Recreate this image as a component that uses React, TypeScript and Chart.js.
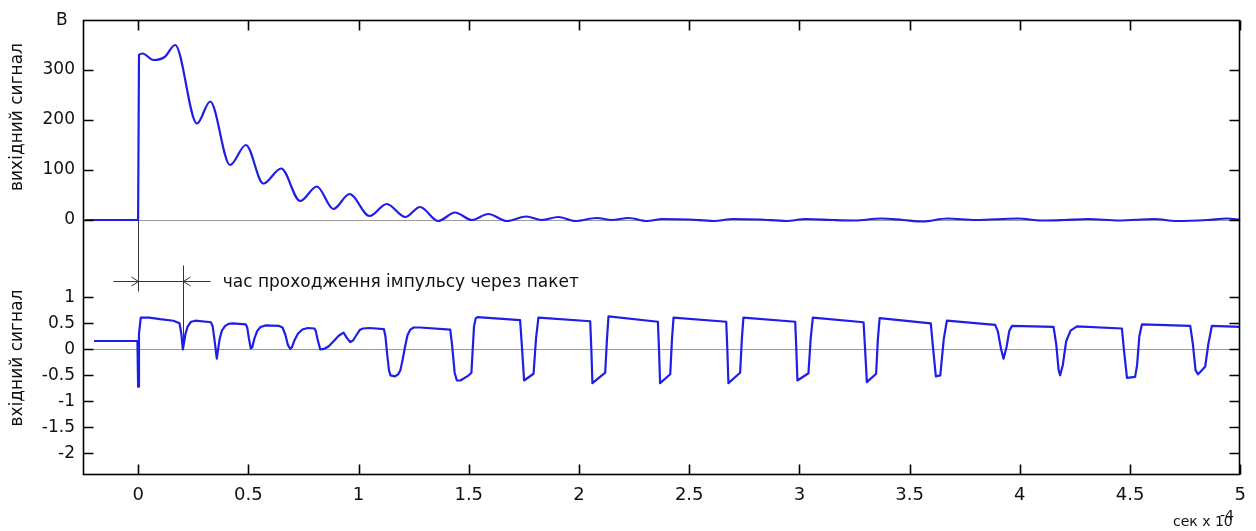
import React, { useEffect, useRef } from "react";
import { Chart, registerables } from "chart.js";

Chart.register(...registerables);

// ---------- data ----------
const X_TICKS = [0, 0.5, 1, 1.5, 2, 2.5, 3, 3.5, 4, 4.5, 5];
const OUT_TICKS = [0, 100, 200, 300];
const IN_TICKS = [-2, -1.5, -1, -0.5, 0, 0.5, 1];

const OUT_TITLE = "вихідний сигнал";
const IN_TITLE = "вхідний сигнал";
const UNIT_Y = "В";
const UNIT_X = "сек x 10";
const UNIT_X_EXP = "-4";
const ANN_TEXT = "час проходження імпульсу через пакет";

// annotation (time of pulse passing through the package)
const ANN_T0 = 0;
const ANN_T1 = 0.203;
const ANN_Y = 1.31;
const ANN_LINE_FROM = -0.112;
const ANN_LINE_TO = 0.327;
const ANN_T0_END = 1.13;
const ANN_T1_TOP = 1.62;
const ANN_TEXT_X = 0.384;

// output signal (top panel)
const OUT_X = [
  -0.24, 0, 0.004, 0.02, 0.07, 0.12, 0.168, 0.267, 0.327, 0.417, 0.489, 0.568, 0.649,
  0.735, 0.811, 0.886, 0.959, 1.05, 1.128, 1.212, 1.279, 1.361, 1.438, 1.514, 1.589,
  1.673, 1.761, 1.831, 1.906, 1.983, 2.081, 2.149, 2.225, 2.308, 2.38, 2.5, 2.61, 2.7,
  2.82, 2.94, 3.03, 3.15, 3.25, 3.37, 3.47, 3.56, 3.67, 3.8, 3.99, 4.1, 4.2, 4.31, 4.45,
  4.61, 4.71, 4.85, 4.94, 5.0,
];
const OUT_Y = [
  0, 0, 330, 333, 320, 326, 350, 193, 237, 110, 150, 73, 103,
  38, 67, 22, 52, 8, 32, 6, 26, -2, 15, 0, 12,
  -2, 7, 0, 6, -2, 4, 0, 4, -2, 2, 1, -2, 2,
  1, -2, 2, 0, -1, 3, 0, -3, 3, 0, 3, -1, 0, 2, -1,
  2, -2, 0, 3, 0,
];

// input signal (bottom panel)
const IN_X = [
  -0.2, -0.003, 0, 0.004, 0.012, 0.05, 0.1, 0.16, 0.188, 0.196, 0.203, 0.208, 0.215,
  0.225, 0.24, 0.26, 0.33, 0.338, 0.346, 0.357, 0.362, 0.37, 0.38, 0.395, 0.41, 0.43,
  0.488, 0.495, 0.503, 0.511, 0.518, 0.527, 0.54, 0.555, 0.58,
  0.64, 0.655, 0.668, 0.68, 0.69, 0.698, 0.71, 0.725, 0.745, 0.77, 0.8,
  0.806, 0.815, 0.826, 0.845, 0.865, 0.89, 0.91, 0.932, 0.947, 0.962, 0.975, 0.99,
  1.005, 1.02, 1.05, 1.115,
  1.122, 1.13, 1.138, 1.145, 1.165, 1.18, 1.19, 1.2, 1.211, 1.222, 1.235, 1.25, 1.28,
  1.416, 1.424, 1.436, 1.446, 1.462, 1.5, 1.512, 1.518, 1.524, 1.532, 1.54,
  1.733, 1.742, 1.751, 1.794, 1.805, 1.816,
  2.051, 2.056, 2.061, 2.119, 2.127, 2.134,
  2.358, 2.363, 2.368, 2.414, 2.422, 2.429,
  2.668, 2.673, 2.678, 2.731, 2.739, 2.746,
  2.981, 2.986, 2.991, 3.041, 3.051, 3.061,
  3.291, 3.298, 3.306, 3.348, 3.356, 3.364,
  3.596, 3.607, 3.619, 3.639, 3.655, 3.669,
  3.888, 3.9, 3.915, 3.926, 3.94, 3.952, 3.964,
  4.153, 4.165, 4.176, 4.183, 4.195, 4.21, 4.23, 4.259,
  4.463, 4.472, 4.486, 4.523, 4.532, 4.542, 4.554,
  4.773, 4.785, 4.797, 4.808, 4.822, 4.841, 4.855, 4.871, 5.0,
];
const IN_Y = [
  0.16, 0.16, -0.72, 0.3, 0.61, 0.61, 0.58, 0.55, 0.5, 0.3, 0.0, 0.12, 0.3,
  0.44, 0.53, 0.55, 0.52, 0.45, 0.2, -0.18, -0.02, 0.2, 0.36, 0.45, 0.49, 0.5,
  0.48, 0.42, 0.2, 0.02, 0.04, 0.2, 0.35, 0.43, 0.46,
  0.45, 0.42, 0.28, 0.08, 0.01, 0.04, 0.18, 0.3, 0.38, 0.41, 0.4,
  0.35, 0.18, 0.0, 0.01, 0.06, 0.17, 0.26, 0.32, 0.22, 0.14, 0.17, 0.27,
  0.37, 0.4, 0.41, 0.39,
  0.25, -0.1, -0.4, -0.5, -0.52, -0.48, -0.4, -0.2, 0.05, 0.27, 0.38, 0.42, 0.42,
  0.38, 0.1, -0.45, -0.6, -0.6, -0.5, -0.45, 0.0, 0.45, 0.6, 0.62,
  0.56, 0.0, -0.6, -0.47, 0.2, 0.61,
  0.54, 0.0, -0.65, -0.45, 0.2, 0.635,
  0.53, 0.0, -0.65, -0.48, 0.2, 0.61,
  0.53, 0.0, -0.65, -0.45, 0.2, 0.61,
  0.53, 0.0, -0.6, -0.46, 0.2, 0.61,
  0.52, 0.0, -0.63, -0.47, 0.2, 0.6,
  0.5, 0.0, -0.52, -0.5, 0.2, 0.55,
  0.47, 0.35, 0.0, -0.18, 0.05, 0.35, 0.45,
  0.43, 0.1, -0.4, -0.5, -0.3, 0.15, 0.36, 0.44,
  0.4, 0.0, -0.55, -0.53, -0.3, 0.25, 0.48,
  0.45, 0.1, -0.4, -0.48, -0.42, -0.33, 0.1, 0.45, 0.43,
];

// ---------- styles ----------
const FONT = "'DejaVu Sans', 'Liberation Sans', sans-serif";
const TEXT = "#111111";
const BLUE = "rgb(30, 30, 232)";
const TICK_LEN = 10;

const overlayPlugin = {
  id: "overlay",
  beforeDatasetsDraw(chart: any) {
    const { ctx } = chart;
    const { x, yOut, yIn } = chart.scales;
    const px = (v: number) => Math.round(x.getPixelForValue(v)) + 0.5;
    const pyIn = (v: number) => Math.round(yIn.getPixelForValue(v)) + 0.5;
    ctx.save();
    ctx.strokeStyle = "#333";
    ctx.lineWidth = 1;
    const a = px(ANN_T0);
    const b = px(ANN_T1);
    const hy = pyIn(ANN_Y);
    ctx.beginPath();
    ctx.moveTo(a, yOut.getPixelForValue(0));
    ctx.lineTo(a, pyIn(ANN_T0_END));
    ctx.moveTo(b, pyIn(ANN_T1_TOP));
    ctx.lineTo(b, yIn.getPixelForValue(0));
    ctx.moveTo(px(ANN_LINE_FROM), hy);
    ctx.lineTo(px(ANN_LINE_TO), hy);
    ctx.moveTo(a - 7, hy - 4.5);
    ctx.lineTo(a, hy);
    ctx.lineTo(a - 7, hy + 4.5);
    ctx.moveTo(b + 7, hy - 4.5);
    ctx.lineTo(b, hy);
    ctx.lineTo(b + 7, hy + 4.5);
    ctx.stroke();
    ctx.fillStyle = TEXT;
    ctx.font = `17px ${FONT}`;
    ctx.textAlign = "left";
    ctx.textBaseline = "alphabetic";
    ctx.fillText(ANN_TEXT, x.getPixelForValue(ANN_TEXT_X), hy + 5);
    ctx.restore();
  },
  afterDatasetsDraw(chart: any) {
    const { ctx, chartArea } = chart;
    const { x, yOut, yIn } = chart.scales;
    const L = Math.round(chartArea.left) + 0.5;
    const R = Math.round(chartArea.right) - 0.5;
    const T = Math.round(chartArea.top) + 0.5;
    const B = Math.round(chartArea.bottom) - 0.5;
    ctx.save();
    ctx.strokeStyle = "#000";
    ctx.lineWidth = 1.6;
    ctx.strokeRect(L, T, R - L, B - T);
    ctx.beginPath();
    for (const t of x.ticks) {
      const p = Math.round(x.getPixelForValue(t.value)) + 0.5;
      ctx.moveTo(p, B);
      ctx.lineTo(p, B - TICK_LEN);
      ctx.moveTo(p, T);
      ctx.lineTo(p, T + TICK_LEN);
    }
    for (const s of [yOut, yIn]) {
      for (const t of s.ticks) {
        const p = Math.round(s.getPixelForValue(t.value)) + 0.5;
        ctx.moveTo(L, p);
        ctx.lineTo(L + TICK_LEN, p);
        ctx.moveTo(R, p);
        ctx.lineTo(R - TICK_LEN, p);
      }
    }
    ctx.stroke();

    ctx.fillStyle = TEXT;
    ctx.font = `17px ${FONT}`;
    ctx.textAlign = "center";
    ctx.textBaseline = "middle";
    for (const [title, cy] of [
      [OUT_TITLE, 117],
      [IN_TITLE, 358],
    ] as [string, number][]) {
      ctx.save();
      ctx.translate(18, cy);
      ctx.rotate(-Math.PI / 2);
      ctx.fillText(title, 0, 0);
      ctx.restore();
    }
    ctx.textAlign = "left";
    ctx.textBaseline = "alphabetic";
    ctx.fillText(UNIT_Y, 56, 25);
    ctx.font = `14px ${FONT}`;
    ctx.fillText(UNIT_X, 1173, 526);
    ctx.fillText(UNIT_X_EXP, 1220, 520);
    ctx.restore();
  },
};

export default function App() {
  const ref = useRef<HTMLCanvasElement | null>(null);
  useEffect(() => {
    if (!ref.current) return;
    const tickFont = { family: FONT, size: 17 };
    const zeroGrid = {
      drawTicks: false,
      lineWidth: 1,
      color: (c: any) => (c.tick && c.tick.value === 0 ? "#9a9a9a" : "rgba(0,0,0,0)"),
    };
    const chart = new Chart(ref.current, {
      type: "line",
      data: {
        datasets: [
          {
            data: OUT_X.map((v, i) => ({ x: v, y: OUT_Y[i] })),
            yAxisID: "yOut",
            borderColor: BLUE,
            borderWidth: 2.2,
            pointRadius: 0,
            cubicInterpolationMode: "monotone",
          },
          {
            data: IN_X.map((v, i) => ({ x: v, y: IN_Y[i] })),
            yAxisID: "yIn",
            borderColor: BLUE,
            borderWidth: 2.2,
            pointRadius: 0,
            tension: 0,
            borderJoinStyle: "round",
          },
        ],
      },
      options: {
        animation: false,
        responsive: false,
        maintainAspectRatio: false,
        layout: { padding: { left: 0, right: 15, top: 20, bottom: 0 } },
        plugins: { legend: { display: false }, tooltip: { enabled: false } },
        scales: {
          x: {
            type: "linear",
            min: -0.25,
            max: 5,
            afterBuildTicks: (s: any) => {
              s.ticks = X_TICKS.map((v) => ({ value: v }));
            },
            afterFit: (s: any) => {
              s.height = 56;
            },
            grid: { display: false, drawTicks: false },
            border: { display: false },
            ticks: {
              padding: 10,
              font: { family: FONT, size: 18 },
              color: TEXT,
              maxRotation: 0,
              autoSkip: false,
              callback: (v: any) => String(v),
            },
          },
          yOut: {
            type: "linear",
            position: "left",
            stack: "panels",
            stackWeight: 230,
            weight: 2,
            min: -60,
            max: 400,
            afterBuildTicks: (s: any) => {
              s.ticks = OUT_TICKS.map((v) => ({ value: v }));
            },
            afterFit: (s: any) => {
              s.width = 83;
            },
            grid: zeroGrid as any,
            border: { display: false },
            ticks: {
              padding: 8,
              font: tickFont,
              color: TEXT,
              autoSkip: false,
              callback: (v: any) => String(v),
            },
          },
          yIn: {
            type: "linear",
            position: "left",
            stack: "panels",
            stackWeight: 225,
            weight: 1,
            min: -2.417,
            max: 1.91,
            afterBuildTicks: (s: any) => {
              s.ticks = IN_TICKS.map((v) => ({ value: v }));
            },
            afterFit: (s: any) => {
              s.width = 83;
            },
            grid: zeroGrid as any,
            border: { display: false },
            ticks: {
              padding: 8,
              font: tickFont,
              color: TEXT,
              autoSkip: false,
              callback: (v: any) => String(v),
            },
          },
        },
      } as any,
      plugins: [overlayPlugin],
    });
    return () => chart.destroy();
  }, []);
  return (
    <div style={{ position: "fixed", left: 0, top: 0, width: 1256, height: 531, background: "#fff" }}>
      <canvas ref={ref} width={1256} height={531} style={{ display: "block" }} />
    </div>
  );
}
